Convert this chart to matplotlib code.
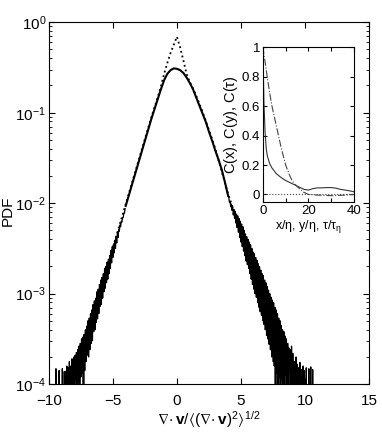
import numpy as np
import matplotlib
matplotlib.use("Agg")
import matplotlib.pyplot as plt

plt.rcParams["font.family"] = ["Liberation Sans", "DejaVu Sans"]
plt.rcParams["mathtext.fontset"] = "custom"
plt.rcParams["mathtext.rm"] = "Liberation Sans"
plt.rcParams["mathtext.it"] = "Liberation Sans:italic"
plt.rcParams["mathtext.bf"] = "Liberation Sans:bold"
plt.rcParams["mathtext.default"] = "regular"

# smooth central part of the measured PDF (log10 values)
core_x = [-4.0, -3.75, -3.5, -3.25, -3.0, -2.75, -2.5, -2.25, -2.0, -1.75, -1.5, -1.25,
          -1.0, -0.75, -0.5, -0.25, 0.0, 0.25, 0.5, 0.75, 1.0, 1.25, 1.5, 1.75,
          2.0, 2.25, 2.5, 2.75, 3.0, 3.25, 3.5, 3.75, 4.0]
core_log = [-2.03, -1.91, -1.79, -1.67, -1.55, -1.43, -1.31, -1.19, -1.07, -0.96, -0.85, -0.74,
            -0.64, -0.57, -0.53, -0.51, -0.515, -0.53, -0.56, -0.61, -0.67, -0.74, -0.83, -0.92,
            -1.01, -1.10, -1.21, -1.31, -1.42, -1.52, -1.63, -1.77, -1.92]

# noisy tails, bins of 0.05; -9 marks empty bins
left_log = [-9, -3.83, -9, -9, -9, -9, -3.85, -9, -9, -9,
            -9, -3.83, -9, -9, -3.86, -9, -3.86, -9, -3.80, -9,
            -3.82, -9, -3.75, -9, -3.80, -9, -3.72, -9, -3.78, -3.70,
            -9, -3.68, -3.95, -3.65, -9, -3.62, -3.98, -3.58, -9, -3.55,
            -3.92, -3.50, -3.88, -3.48, -9, -3.45, -3.85, -3.40, -3.75, -3.36,
            -3.68, -3.30, -3.70, -3.27, -3.62, -3.22, -3.55, -3.18, -3.52, -3.12,
            -3.42, -3.08, -3.40, -3.05, -3.32, -2.98, -3.28, -2.95, -3.22, -2.90,
            -3.14, -2.85, -3.12, -2.82, -3.05, -2.78, -2.98, -2.72, -2.94, -2.70,
            -2.88, -2.65, -2.84, -2.62, -2.78, -2.58, -2.72, -2.52, -2.66, -2.48,
            -2.60, -2.45, -2.55, -2.41, -2.50, -2.37, -2.44, -2.32, -2.38, -2.29,
            -2.31, -2.24, -2.26, -2.20, -2.21, -2.16, -2.16, -2.11, -2.11, -2.06]
left_x = np.linspace(-9.5, -4.05, 110)
right_log = [-1.94, -1.99, -1.98, -2.04, -2.01, -2.08, -2.04, -2.13, -2.07, -2.17,
             -2.09, -2.22, -2.12, -2.27, -2.14, -2.32, -2.17, -2.38, -2.20, -2.43,
             -2.23, -2.48, -2.26, -2.53, -2.30, -2.58, -2.34, -2.64, -2.37, -2.68,
             -2.40, -2.72, -2.43, -2.78, -2.46, -2.84, -2.50, -2.90, -2.54, -2.95,
             -2.56, -3.00, -2.60, -3.04, -2.63, -3.10, -2.67, -3.15, -2.70, -3.20,
             -2.74, -3.24, -2.78, -3.30, -2.80, -3.34, -2.85, -3.40, -2.88, -3.46,
             -2.92, -3.50, -2.96, -3.56, -3.00, -3.62, -3.04, -3.70, -3.07, -3.75,
             -3.10, -3.80, -3.15, -9, -3.18, -3.88, -3.22, -9, -3.27, -3.92,
             -3.30, -9, -3.35, -3.95, -3.40, -9, -3.42, -9, -3.47, -3.90,
             -3.50, -9, -3.55, -9, -3.60, -3.88, -3.62, -9, -3.58, -9,
             -3.66, -9, -3.75, -9, -9, -3.70, -9, -3.78, -9, -3.82,
             -9, -3.76, -9, -9, -3.84, -9, -3.80, -9, -3.85, -9,
             -9, -3.82, -9, -9, -9, -3.83, -9, -9, -3.81, -9,
             -9, -3.84, -9, -9]
right_x = np.linspace(4.05, 10.7, 134)

# dotted reference curve (log10 values)
ref_x = [-8.0, -7.0, -6.0, -5.0, -4.0, -3.0, -2.5, -2.0, -1.5, -1.25, -1.0, -0.75,
         -0.5, -0.25, 0.0, 0.25, 0.5, 0.75, 1.0, 1.25, 1.5, 2.0, 2.5, 3.0,
         4.0, 5.0, 6.0, 7.0, 8.0, 9.0]
ref_log = [-3.90, -3.43, -2.96, -2.49, -2.01, -1.53, -1.29, -1.05, -0.83, -0.71, -0.57, -0.45,
           -0.34, -0.25, -0.16, -0.28, -0.42, -0.57, -0.66, -0.73, -0.81, -0.99, -1.19, -1.40,
           -1.90, -2.31, -2.71, -3.11, -3.51, -3.91]

# inset: correlation functions
cx_lag = [0, 0.5, 1, 1.5, 2, 3, 4, 5, 6, 8, 10, 12, 14, 16, 18, 20, 22, 24, 26, 28,
          30, 32, 34, 36, 38, 40]
cx_val = [1.0, 0.62, 0.42, 0.31, 0.26, 0.21, 0.18, 0.16, 0.14, 0.115, 0.095, 0.08, 0.065,
          0.05, 0.035, 0.03, 0.04, 0.045, 0.045, 0.047, 0.047, 0.043, 0.035, 0.03, 0.025, 0.018]
ct_lag = [0, 1, 2, 3, 4, 5, 6, 7, 8, 9, 10, 11, 12, 13, 14, 16, 18, 20, 25, 30, 35, 40]
ct_val = [1.0, 0.9, 0.79, 0.69, 0.6, 0.53, 0.46, 0.39, 0.32, 0.26, 0.2, 0.16, 0.12, 0.09,
          0.07, 0.04, 0.015, 0.0, -0.005, -0.008, -0.005, 0.0]

fig = plt.figure(figsize=(3.82, 4.36), dpi=100)
ax = fig.add_axes([0.128, 0.119, 0.838, 0.830])

ax.plot(ref_x, 10 ** np.array(ref_log), color="black", ls=":", lw=1.3)
ax.plot(left_x, 10 ** np.array(left_log, dtype=float), color="black", lw=0.9)
ax.plot(right_x, 10 ** np.array(right_log, dtype=float), color="black", lw=0.9)
ax.plot(core_x, 10 ** np.array(core_log), color="black", lw=1.5)

ax.set_yscale("log")
ax.set_xlim(-10, 15)
ax.set_ylim(1e-4, 1)
ax.set_xticks([-10, -5, 0, 5, 10, 15])
ax.tick_params(which="both", direction="in", top=True, right=True, labelsize=11)
ax.tick_params(which="major", length=4)
ax.tick_params(which="minor", length=2)
ax.tick_params(axis="x", pad=7)
ax.tick_params(axis="y", pad=2)
ax.set_xlabel(r"$\nabla\!\cdot\mathbf{v}/\langle(\nabla\!\cdot\mathbf{v})^2\rangle^{1/2}$",
              fontsize=11, labelpad=1)
ax.set_ylabel("PDF", fontsize=11)
ax.yaxis.set_label_coords(-0.108, 0.48)

ins = fig.add_axes([0.688, 0.537, 0.239, 0.355])
ins.plot(cx_lag, cx_val, color="#333333", lw=0.8)
ins.plot(ct_lag, ct_val, color="#444444", lw=0.8, ls="-.")
ins.axhline(0, color="#444444", lw=0.8, ls=":")
ins.set_xlim(0, 40)
ins.set_ylim(-0.05, 1)
ins.set_xticks([0, 10, 20, 30, 40])
ins.set_xticklabels(["0", "", "20", "", "40"])
ins.set_yticks([0, 0.2, 0.4, 0.6, 0.8, 1])
ins.set_yticklabels(["0", "0.2", "0.4", "0.6", "0.8", "1"])
ins.tick_params(direction="in", top=True, right=True, labelsize=9.5, length=3, pad=2)
ins.set_ylabel(r"C(x), C(y), C($\tau$)", fontsize=10.5, labelpad=1)
ins.set_xlabel(r"x/$\eta$, y/$\eta$, $\tau/\tau_\eta$", fontsize=9, labelpad=1)

fig.savefig("out.png", dpi=100)
